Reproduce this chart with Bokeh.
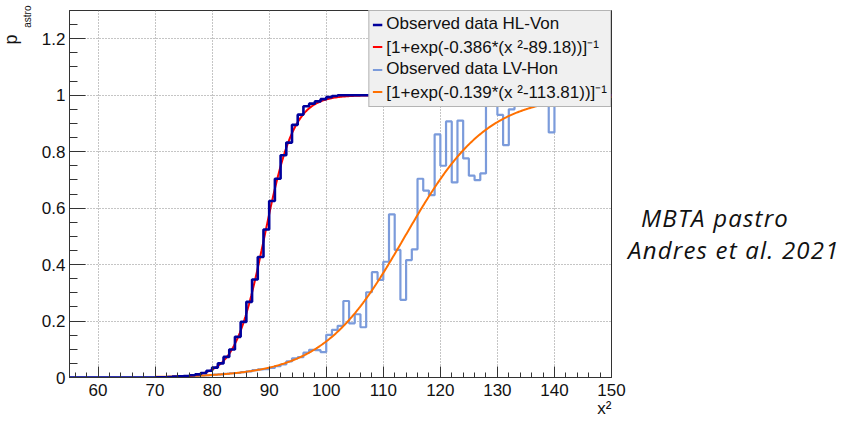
import numpy as np
from bokeh.plotting import figure
from bokeh.models import Range1d, FixedTicker, Legend, LegendItem, Title, Div
from bokeh.layouts import row
from bokeh.embed import file_html
from bokeh.resources import INLINE

# ---------------- data ----------------
bin_edges = list(range(55, 151))  # 1-unit bins from 55 to 150

hl_values = (
    [0.0] * 15 +                                   # 55..69
    [0.001, 0.001, 0.002, 0.003, 0.004, 0.005,     # 70..75
     0.008, 0.011, 0.016, 0.024, 0.035, 0.050,     # 76..81
     0.073, 0.099, 0.144, 0.197, 0.268, 0.347,     # 82..87
     0.427, 0.524, 0.625, 0.704, 0.787, 0.832,     # 88..93
     0.895, 0.931, 0.961, 0.970, 0.978, 0.986,     # 94..99
     0.993, 0.997] +                               # 100..101
    [1.0] * 48                                     # 102..149
)

lv_values = (
    [0.0] * 18 +                                   # 55..72
    [0.002, 0.003, 0.004, 0.005, 0.006, 0.007,     # 73..78
     0.008, 0.010, 0.011, 0.013, 0.015, 0.016,     # 79..84
     0.019, 0.022, 0.026, 0.029, 0.030, 0.034,     # 85..90
     0.040, 0.046, 0.057, 0.068, 0.072, 0.088,     # 91..96
     0.098, 0.097, 0.090,                          # 97..99
     0.151, 0.169, 0.183, 0.271, 0.192, 0.224,     # 100..105
     0.178, 0.302, 0.373, 0.346, 0.410, 0.578,     # 106..111
     0.452, 0.275, 0.416, 0.454, 0.704, 0.662,     # 112..117
     0.646, 0.861, 0.750, 0.907, 0.691, 0.910,     # 118..123
     0.776, 0.715, 0.699, 0.723, 0.988, 0.988,     # 124..129
     0.930, 0.823, 0.950, 0.970, 1.000, 0.968,     # 130..135
     0.968, 0.973, 0.975, 0.868, 1.000, 1.000,     # 136..141
     1.000, 1.000, 1.000, 1.000, 1.000, 0.982,     # 142..147
     1.000, 1.000]                                 # 148..149
)

# fit parameters (from the legend)
hl_fit_slope, hl_fit_mid = 0.386, 89.18
lv_fit_slope, lv_fit_mid = 0.139, 113.81
fit_x_min, fit_x_max = 70, 150

x_ticks = [60, 70, 80, 90, 100, 110, 120, 130, 140, 150]
x_minor = list(range(56, 151, 2))
y_ticks = [0, 0.2, 0.4, 0.6, 0.8, 1.0, 1.2]
y_tick_labels = ["0", "0.2", "0.4", "0.6", "0.8", "1", "1.2"]
y_minor = [round(0.05 * i, 2) for i in range(27)]

legend_labels = [
    "Observed data HL-Von",
    "[1+exp(-0.386*(x \u00b2-89.18))]\u207b\u00b9",
    "Observed data LV-Hon",
    "[1+exp(-0.139*(x \u00b2-113.81))]\u207b\u00b9",
]
note_lines = ["MBTA pastro", "Andres et al. 2021"]

# ---------------- figure ----------------
p = figure(width=630, height=423, output_backend="svg", toolbar_location=None,
           x_range=Range1d(55, 150), y_range=Range1d(0, 1.3),
           min_border_left=69, min_border_right=19,
           min_border_top=10, min_border_bottom=46)
p.background_fill_color = "white"
p.border_fill_color = "white"
p.outline_line_color = "#333333"
p.outline_line_width = 1

fx = np.linspace(fit_x_min, fit_x_max, 400)
hl_fit = 1.0 / (1.0 + np.exp(-hl_fit_slope * (fx - hl_fit_mid)))
lv_fit = 1.0 / (1.0 + np.exp(-lv_fit_slope * (fx - lv_fit_mid)))

r_lv = p.step(bin_edges, lv_values + [lv_values[-1]], mode="after",
              line_color="#7b9bdb", line_width=2.2)
r_lvfit = p.line(fx, lv_fit, line_color="#ff7000", line_width=2)
r_hlfit = p.line(fx, hl_fit, line_color="#ff0000", line_width=2)
r_hl = p.step(bin_edges, hl_values + [hl_values[-1]], mode="after",
              line_color="#00009c", line_width=2.6)

# axes
for ax in (p.xaxis[0], p.yaxis[0]):
    ax.axis_line_color = "#333333"
    ax.major_tick_line_color = "#333333"
    ax.minor_tick_line_color = "#333333"
    ax.major_tick_out = 0
    ax.minor_tick_out = 0
    ax.major_label_text_font = "Liberation Sans"
    ax.major_label_text_font_size = "17px"
    ax.major_label_text_color = "#111111"

p.xaxis.ticker = FixedTicker(ticks=x_ticks, minor_ticks=x_minor)
p.xaxis.major_tick_in = 11
p.xaxis.minor_tick_in = 5
p.xaxis.major_label_standoff = 6

p.yaxis.ticker = FixedTicker(ticks=y_ticks, minor_ticks=y_minor)
p.yaxis.major_label_overrides = dict(zip(y_ticks, y_tick_labels))
p.yaxis.major_tick_in = 16
p.yaxis.minor_tick_in = 8
p.yaxis.major_label_standoff = 4

for g in (p.xgrid[0], p.ygrid[0]):
    g.grid_line_color = "#8a8a8a"
    g.grid_line_dash = "1 2"
    g.grid_line_width = 1

# legend
legend = Legend(
    items=[LegendItem(label=legend_labels[0], renderers=[r_hl]),
           LegendItem(label=legend_labels[1], renderers=[r_hlfit]),
           LegendItem(label=legend_labels[2], renderers=[r_lv]),
           LegendItem(label=legend_labels[3], renderers=[r_lvfit])],
    location="top_right", margin=0, padding=3, spacing=1,
    label_height=17, glyph_height=17, glyph_width=10, label_standoff=4,
    label_text_font="Liberation Sans", label_text_font_size="17px",
    label_text_color="#111111",
    background_fill_color="#f0f0f0", background_fill_alpha=1.0,
    border_line_color="#777777", border_line_width=1,
)
p.add_layout(legend)

# axis titles
p.add_layout(Title(text="astro", align="right", offset=-5, standoff=12,
                   text_font="Liberation Sans", text_font_size="10px",
                   text_font_style="normal", text_color="#111111"), "left")
p.add_layout(Title(text="p", align="right", offset=24, standoff=-14,
                   text_font="Liberation Sans", text_font_size="18px",
                   text_font_style="normal", text_color="#111111"), "left")
p.add_layout(Title(text="x\u00b2", align="right", offset=0, standoff=-3,
                   text_font="Liberation Sans", text_font_size="17px",
                   text_font_style="normal", text_color="#111111"), "below")

note = Div(
    text=("<div style=\"font-family:'Open Sans';font-style:italic;font-size:24px;"
          "letter-spacing:1.2px;line-height:32px;color:#111111;padding-top:202px;"
          "white-space:nowrap;\">"
          f"<div style=\"margin-left:11px\">{note_lines[0]}</div>"
          f"<div style=\"margin-left:-2px\">{note_lines[1]}</div></div>"),
    width=218, height=423, margin=0,
)

layout = row(p, note, spacing=0)
open("out.html", "w").write(file_html(layout, INLINE))
